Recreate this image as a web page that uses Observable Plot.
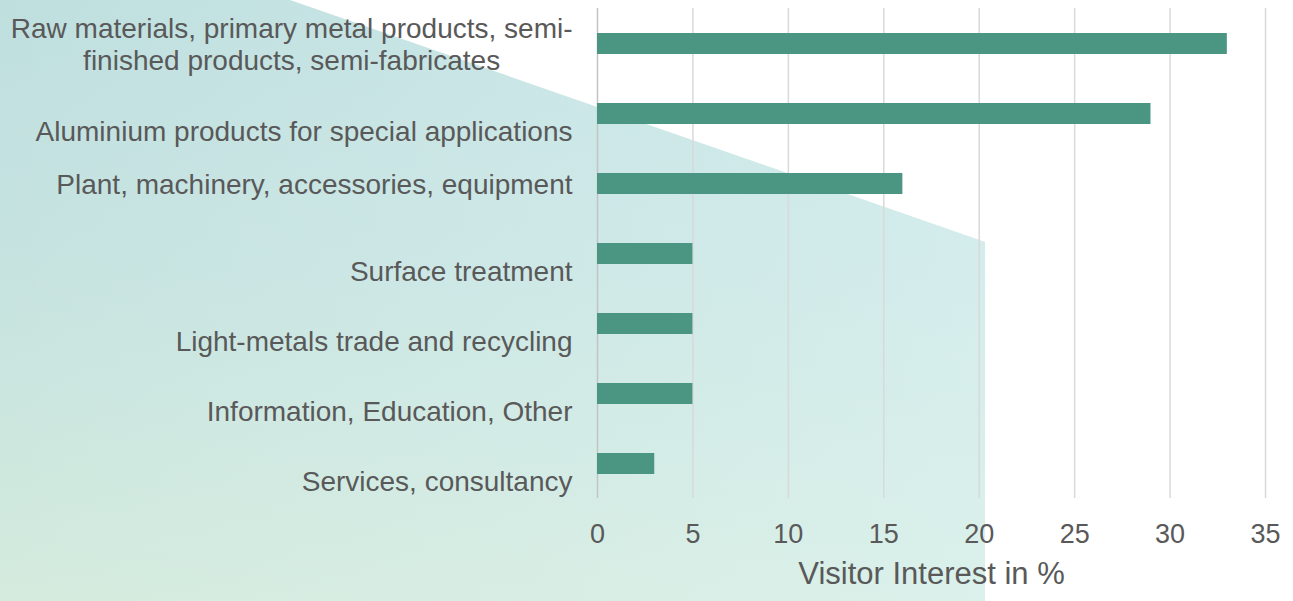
<!DOCTYPE html>
<html>
<head>
<meta charset="utf-8">
<script src="https://cdn.jsdelivr.net/npm/d3@7"></script>
<script src="https://cdn.jsdelivr.net/npm/@observablehq/plot@0.6"></script>
<style>
  html, body { margin: 0; padding: 0; background: #ffffff; }
  #chart svg { display: block; }
</style>
</head>
<body>
<div id="chart"></div>
<script>
// ---- data ----
const categories = [
  "Raw materials, primary metal products, semi-\nfinished products, semi-fabricates",
  "Aluminium products for special applications",
  "Plant, machinery, accessories, equipment",
  "Surface treatment",
  "Light-metals trade and recycling",
  "Information, Education, Other",
  "Services, consultancy"
];
const values = [33, 29, 16, 5, 5, 5, 3];
const xTicks = [0, 5, 10, 15, 20, 25, 30, 35];
const xLabel = "Visitor Interest in %";

const rows = categories.map((c, i) => ({category: c, value: values[i]}));

// label vertical nudges (style, not data)
const labelShift = [0, 17, 0, 17, 17, 17, 17];

const textColor = "#595959";
const font = "Liberation Sans, Arial, sans-serif";

const chart = Plot.plot({
  width: 1293,
  height: 601,
  marginLeft: 597,
  marginRight: 28,
  marginTop: 8,
  marginBottom: 103,
  style: {background: "transparent", fontFamily: font, color: textColor},
  x: {domain: [0, 35], ticks: xTicks},
  y: {domain: categories, padding: 0.7, paddingOuter: 0.35, axis: null},
  marks: [
    Plot.gridX(xTicks.filter(d => d !== 0), {stroke: "#d9d9d9", strokeOpacity: 1, strokeWidth: 1.5}),
    Plot.ruleX([0], {stroke: "#c4c4c4", strokeWidth: 1.5}),
    Plot.barX(rows, {x: "value", y: "category", fill: "#4a9683"}),
    Plot.axisX(xTicks, {tickSize: 0, tickPadding: 25, fontSize: 27, fill: textColor, label: null}),
    Plot.text(rows, {
      x: 0, y: "category", text: "category",
      textAnchor: "end", dx: -25,
      fontSize: 28, fill: textColor, lineHeight: 1.15
    }),
    Plot.text([xLabel], {frameAnchor: "bottom", text: d => d, dy: 85, fontSize: 31, fill: textColor})
  ]
});

document.getElementById("chart").appendChild(chart);

const svg = d3.select(chart);

// background decorative gradient polygon
const defs = svg.insert("defs", ":first-child");
const g1 = defs.append("linearGradient").attr("id", "bgGrad")
  .attr("gradientUnits", "userSpaceOnUse")
  .attr("x1", 0).attr("y1", 0).attr("x2", 0).attr("y2", 601);
g1.append("stop").attr("offset", "0").attr("stop-color", "#bfdfdf");
g1.append("stop").attr("offset", "0.45").attr("stop-color", "#c6e3e0");
g1.append("stop").attr("offset", "1").attr("stop-color", "#d4ebdd");
const g2 = defs.append("linearGradient").attr("id", "bgGrad2")
  .attr("gradientUnits", "userSpaceOnUse")
  .attr("x1", 0).attr("y1", 0).attr("x2", 985).attr("y2", 0);
g2.append("stop").attr("offset", "0").attr("stop-color", "#e2f6f8").attr("stop-opacity", 0);
g2.append("stop").attr("offset", "1").attr("stop-color", "#e2f6f8").attr("stop-opacity", 0.5);

const poly = "0,0 290,0 985,242 985,601 0,601";
const bgG = svg.insert("g", "defs + *");
bgG.append("polygon").attr("points", poly).attr("fill", "url(#bgGrad)");
bgG.append("polygon").attr("points", poly).attr("fill", "url(#bgGrad2)");

// shift single-line category labels and center the two-line label's lines
const textGroups = chart.querySelectorAll('g[aria-label="text"]');
const catTexts = textGroups[0].querySelectorAll("text");
catTexts.forEach((t, i) => {
  const tr = t.getAttribute("transform") || "";
  const tspans = t.querySelectorAll("tspan");
  let extra = ` translate(0,${labelShift[i]})`;
  if (tspans.length > 1) {
    const w = t.getBBox().width;
    t.setAttribute("text-anchor", "middle");
    extra += ` translate(${-w / 2},0)`;
  }
  t.setAttribute("transform", tr + extra);
});
</script>
</body>
</html>
